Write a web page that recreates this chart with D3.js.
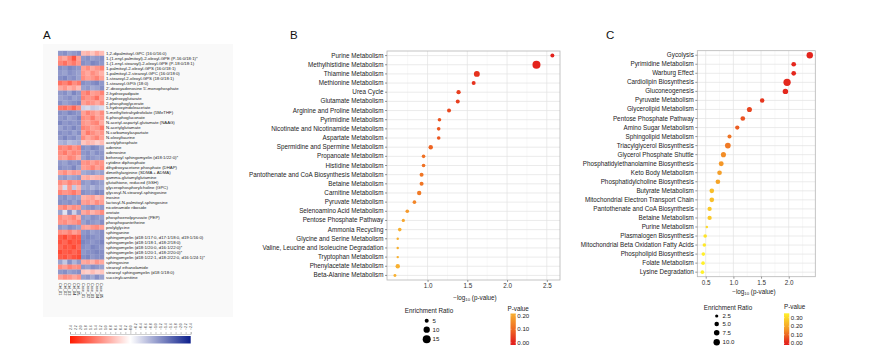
<!DOCTYPE html>
<html><head><meta charset="utf-8">
<script src="https://cdn.jsdelivr.net/npm/d3@7"></script>
<style>body{margin:0;background:#fff}svg{display:block}text{font-family:"Liberation Sans",Arial,sans-serif}</style>
</head><body><svg id="c" width="885" height="358"></svg>
<script>
// ---------- DATA ----------
const heatRows = ["1,2-dipalmitoyl-GPC (16:0/16:0)","1-(1-enyl-palmitoyl)-2-oleoyl-GPE (P-16:0/18:1)*","1-(1-enyl-stearoyl)-2-oleoyl-GPE (P-18:0/18:1)","1-palmitoyl-2-oleoyl-GPS (16:0/18:1)","1-palmitoyl-2-stearoyl-GPC (16:0/18:0)","1-stearoyl-2-oleoyl-GPS (18:0/18:1)","1-stearoyl-GPG (18:0)","2'-deoxyadenosine 5'-monophosphate","2-hydroxyadipate","2-hydroxyglutarate","2-phosphoglycerate","5-hydroxyindoleacetate","5-methyltetrahydrofolate (5MeTHF)","6-phosphogluconate","N-acetyl-aspartyl-glutamate (NAAG)","N-acetylglutamate","N-carbamoylaspartate","N-oleoyltaurine","acetylphosphate","adenine","adenosine","behenoyl sphingomyelin (d18:1/22:0)*","cytidine diphosphate","dihydroxyacetone phosphate (DHAP)","dimethylarginine (SDMA + ADMA)","gamma-glutamylglutamine","glutathione, reduced (GSH)","glycerophosphorylcholine (GPC)","glycosyl-N-stearoyl-sphingosine","inosine","lactosyl-N-palmitoyl-sphingosine","nicotinamide riboside","orotate","phosphoenolpyruvate (PEP)","phosphopantetheine","prolylglycine","sphinganine","sphingomyelin (d18:1/17:0, d17:1/18:0, d19:1/16:0)","sphingomyelin (d18:1/18:1, d18:2/18:0)","sphingomyelin (d18:1/20:0, d16:1/22:0)*","sphingomyelin (d18:1/20:1, d18:2/20:0)*","sphingomyelin (d18:1/22:1, d18:2/22:0, d16:1/24:1)*","sphingosine","stearoyl ethanolamide","stearoyl sphingomyelin (d18:1/18:0)","succinylcarnitine"];
const heatCols = ["Ctrl_01","Ctrl_02","Ctrl_03","Ctrl_04","Ctrl_05","Case_01","Case_02","Case_03","Case_04","Case_05"];
const heatValues = [
[-1.1,-1.2,-1.0,-1.1,-1.2, 0.7,0.8,0.6,0.9,0.7],
[1.1,0.9,1.3,1.8,1.0, -1.1,-1.2,-1.0,-1.1,-1.2],
[1.3,1.5,1.2,1.4,1.1, -1.2,-1.1,-1.3,-1.2,-1.1],
[-1.2,-1.1,-1.3,-1.2,-1.1, 1.0,1.2,0.9,1.1,1.3],
[-1.1,-1.0,-1.2,-1.1,-1.0, 1.1,0.9,1.2,1.0,0.8],
[-1.2,-1.3,-1.1,-1.2,-1.0, 1.2,1.0,1.1,1.3,1.0],
[1.5,1.3,1.6,1.2,1.4, -1.2,-1.1,-1.2,-1.3,-1.1],
[0.9,1.1,0.8,1.0,0.7, -1.0,-1.1,-0.9,-1.0,-1.2],
[-1.1,-1.2,-1.0,-1.3,-1.1, 1.2,1.4,1.0,1.1,1.3],
[-1.0,-1.1,-1.2,-1.0,-1.1, 1.3,1.1,1.2,1.5,1.0],
[-1.2,-1.0,-1.1,-1.2,-1.3, 1.0,1.2,1.1,0.9,1.2],
[1.4,1.5,1.3,1.6,1.2, -0.5,-0.4,-0.6,-0.5,-0.4],
[-1.2,-1.1,-1.3,-1.2,-1.1, 1.0,1.3,1.1,0.9,1.2],
[-1.1,-1.2,-1.0,-1.1,-1.3, 1.2,1.1,1.4,1.0,1.1],
[-1.3,-1.1,-1.2,-1.1,-1.2, 1.1,1.0,1.2,1.3,0.9],
[-1.0,-1.2,-1.1,-1.3,-1.1, 1.3,1.2,1.0,1.1,1.4],
[-1.2,-1.1,-1.2,-1.0,-1.2, 1.0,1.4,1.2,1.0,1.1],
[-1.1,-1.3,-1.1,-1.2,-1.0, 1.2,0.9,1.1,1.3,1.0],
[-0.8,-0.9,-0.7,-0.8,-0.9, 0.6,0.8,0.7,0.5,0.7],
[1.3,1.2,1.4,1.1,1.3, -1.2,-1.1,-1.3,-1.2,-1.0],
[1.2,1.4,1.1,1.3,1.2, -1.1,-1.2,-1.0,-1.2,-1.1],
[1.1,1.0,1.3,1.2,0.9, -1.0,-1.2,-1.1,-1.0,-1.1],
[-1.1,-1.0,-1.2,-1.1,-1.2, 1.1,1.2,1.0,1.2,1.1],
[-1.2,-1.1,-1.1,-1.3,-1.0, 1.0,1.1,1.3,1.0,1.2],
[1.0,1.2,0.9,1.1,1.0, -0.9,-1.0,-1.1,-0.9,-1.0],
[-1.0,-1.1,-0.9,-1.0,-1.1, 0.8,0.9,0.7,0.8,0.9],
[1.2,1.0,1.3,1.1,1.2, -1.1,-1.0,-1.2,-1.1,-1.0],
[0.9,-0.4,1.1,-0.6,0.8, -0.9,-1.0,-0.8,-1.0,-0.9],
[1.3,1.1,1.2,1.4,1.1, -1.2,-1.1,-1.1,-1.3,-1.2],
[-1.1,-1.2,-1.0,-1.1,-1.0, 0.8,0.9,1.0,0.7,0.9],
[-1.2,-1.1,-1.2,-1.0,-1.2, 1.0,1.1,0.9,1.2,1.0],
[1.1,1.3,1.0,1.2,1.1, -1.0,-1.1,-1.2,-1.0,-1.1],
[-1.0,-0.3,-1.2,-0.5,-1.1, 0.9,1.1,0.8,1.0,1.2],
[1.2,1.0,1.1,1.3,0.9, -1.1,-1.0,-1.2,-1.1,-1.0],
[1.1,1.2,1.0,1.1,1.3, -1.0,-1.2,-1.1,-1.0,-1.2],
[-1.1,-1.0,-1.2,-1.1,-1.0, 1.0,0.9,1.1,1.2,1.0],
[1.2,1.1,1.3,1.0,1.2, -1.1,-1.2,-1.0,-1.1,-1.2],
[1.7,1.9,1.6,1.8,1.7, -1.2,-1.3,-1.2,-1.1,-1.2],
[1.8,1.6,1.9,1.7,1.8, -1.3,-1.2,-1.1,-1.2,-1.3],
[1.6,1.8,1.7,1.9,1.6, -1.2,-1.1,-1.3,-1.2,-1.1],
[1.9,1.7,1.8,1.6,1.8, -1.1,-1.2,-1.2,-1.3,-1.2],
[1.7,1.8,1.6,1.8,1.9, -1.2,-1.3,-1.1,-1.2,-1.2],
[-1.0,-0.6,-1.2,-0.8,-1.1, 0.9,1.0,0.8,1.1,0.9],
[1.2,1.0,1.3,1.1,1.2, -1.1,-1.0,-1.2,-1.1,-1.0],
[-1.1,-1.2,-1.0,-1.1,-1.2, 0.6,0.5,0.7,0.5,0.6],
[1.0,1.2,1.1,0.9,1.1, -1.0,-1.1,-0.9,-1.2,-1.0]];
const heatTicks = [2.4,2.2,2.0,1.8,1.6,1.4,1.2,1.0,0.8,0.6,0.4,0.2,0.0,-0.2,-0.4,-0.6,-0.8,-1.0,-1.2,-1.4,-1.6,-1.8,-2.0,-2.2,-2.4];

const bCats = ["Purine Metabolism","Methylhistidine Metabolism","Thiamine Metabolism","Methionine Metabolism","Urea Cycle","Glutamate Metabolism","Arginine and Proline Metabolism","Pyrimidine Metabolism","Nicotinate and Nicotinamide Metabolism","Aspartate Metabolism","Spermidine and Spermine Metabolism","Propanoate Metabolism","Histidine Metabolism","Pantothenate and CoA Biosynthesis Metabolism","Betaine Metabolism","Carnitine Metabolism","Pyruvate Metabolism","Selenoamino Acid Metabolism","Pentose Phosphate Pathway","Ammonia Recycling","Glycine and Serine Metabolism","Valine, Leucine and Isoleucine Degradation","Tryptophan Metabolism","Phenylacetate Metabolism","Beta-Alanine Metabolism"];
const bLogP = [2.57,2.37,1.62,1.58,1.39,1.38,1.27,1.15,1.14,1.14,1.04,0.95,0.95,0.925,0.925,0.895,0.835,0.745,0.695,0.65,0.625,0.625,0.625,0.625,0.59];
const bRatio = [5.0,15.0,9.0,5.0,5.5,5.0,5.0,4.4,4.4,4.4,5.7,4.4,4.4,5.0,5.0,5.7,4.4,4.4,3.8,4.4,2.9,2.9,2.9,5.7,3.5];
const bSizeTicks = [5,10,15];
const bPTicks = [0.20,0.10,0.00];

const cCats = ["Gycolysis","Pyrimidine Metabolism","Warburg Effect","Cardiolipin Biosynthesis","Gluconeogenesis","Pyruvate Metabolism","Glycerolipid Metabolism","Pentose Phosphate Pathway","Amino Sugar Metabolism","Sphingolipid Metabolism","Triacylglycerol Biosynthesis","Glycerol Phosphate Shuttle","Phosphatidylethanolamine Biosynthesis","Keto Body Metabolism","Phosphatidylcholine Biosynthesis","Butyrate Metabolism","Mitochondrial Electron Transport Chain","Pantothenate and CoA Biosynthesis","Betaine Metabolism","Purine Metabolism","Plasmalogen Biosynthesis","Mitochondrial Beta Oxidation Fatty Acids","Phospholipid Biosynthesis","Folate Metabolism","Lysine Degradation"];
const cLogP = [2.38,2.09,2.09,1.97,1.94,1.52,1.29,1.17,1.07,0.93,0.90,0.82,0.78,0.75,0.72,0.61,0.61,0.57,0.57,0.52,0.49,0.475,0.457,0.452,0.44];
const cRatio = [10.0,5.3,5.3,13.0,7.3,5.0,6.3,5.3,4.5,4.0,8.0,6.3,6.0,5.3,5.3,5.3,5.3,4.5,4.5,1.5,3.2,3.0,3.2,3.2,3.2];
const cSizeTicks = [2.5,5.0,7.5,10.0];
const cPTicks = [0.30,0.20,0.10,0.00];

// ---------- DRAW ----------
const svg = d3.select("#c");
svg.append("rect").attr("width",885).attr("height",358).attr("fill","#fff");

[["A",43,39],["B",290,39],["C",606,39]].forEach(([t,x,y])=>{
  svg.append("text").attr("x",x).attr("y",y).attr("font-size",11.5).attr("fill","#111").text(t);
});

// ---- Panel A: heatmap ----
svg.append("rect").attr("x",43).attr("y",44).attr("width",190).attr("height",273).attr("fill","#f9f9f9");
const hx = d3.scaleBand().domain(heatCols).range([58,104]);
const hy = d3.scaleBand().domain(heatRows).range([50.8,279.5]);
const hColor = d3.scaleLinear().domain([2.4,0,-2.4]).range(["#ff1a00","#ffffff","#0d1f8c"]).clamp(true);
const gA = svg.append("g");
heatValues.forEach((row,i)=>{
  row.forEach((v,j)=>{
    gA.append("rect").attr("x",hx(heatCols[j])).attr("y",hy(heatRows[i]))
      .attr("width",hx.bandwidth()+0.2).attr("height",hy.bandwidth()+0.2).attr("fill",hColor(v));
  });
});
gA.selectAll("text.rl").data(heatRows).join("text").attr("class","rl")
  .attr("x",106).attr("y",d=>hy(d)+hy.bandwidth()/2+1.5)
  .attr("font-family","DejaVu Sans").attr("font-size",4.3).attr("fill","#222").text(d=>d);
gA.selectAll("text.cl").data(heatCols).join("text").attr("class","cl")
  .attr("transform",d=>`translate(${hx(d)+hx.bandwidth()/2-1.3},283) rotate(90)`)
  .attr("font-family","DejaVu Sans").attr("font-size",3.8).attr("fill","#222").text(d=>d);
const defs = svg.append("defs");
const lgA = defs.append("linearGradient").attr("id","gA");
d3.range(0,1.0001,0.1).forEach(t=>lgA.append("stop").attr("offset",t).attr("stop-color",hColor(2.4-4.8*t)));
const cbx = d3.scaleLinear().domain([2.4,-2.4]).range([70,190.7]);
svg.append("rect").attr("x",70).attr("y",336).attr("width",120.7).attr("height",7.5).attr("fill","url(#gA)");
const gCB = svg.append("g").attr("transform","translate(0,334)");
gCB.call(d3.axisTop(cbx).tickValues(heatTicks).tickSize(2).tickFormat(d3.format(".1f")))
  .call(g=>g.select(".domain").attr("stroke","#888").attr("stroke-width",0.4))
  .call(g=>g.selectAll(".tick line").attr("stroke","#777").attr("stroke-width",0.4).attr("y2",d=>d===0?-4:-2))
  .call(g=>g.selectAll(".tick text").attr("font-family","DejaVu Sans").attr("font-size",3.4).attr("fill","#444")
     .attr("transform","rotate(-90)").attr("text-anchor","start").attr("x",4).attr("y",0).attr("dy","0.32em"));

// ---- dot plot helper ----
function dotPlot(o){
  const g = svg.append("g");
  const x = d3.scaleLinear().domain(o.xdom).range([o.x0,o.x1]);
  const y = d3.scaleBand().domain(o.cats).range([o.y0,o.y1]);
  g.append("rect").attr("x",o.x0).attr("y",o.y0).attr("width",o.x1-o.x0).attr("height",o.y1-o.y0).attr("fill","#fff");
  o.minor.forEach(v=>g.append("line").attr("x1",x(v)).attr("x2",x(v)).attr("y1",o.y0).attr("y2",o.y1).attr("stroke","#f1f1f1").attr("stroke-width",0.5));
  o.major.forEach(v=>g.append("line").attr("x1",x(v)).attr("x2",x(v)).attr("y1",o.y0).attr("y2",o.y1).attr("stroke","#e3e3e3").attr("stroke-width",0.7));
  o.cats.forEach(c=>g.append("line").attr("x1",o.x0).attr("x2",o.x1).attr("y1",y(c)+y.bandwidth()/2).attr("y2",y(c)+y.bandwidth()/2).attr("stroke","#e3e3e3").attr("stroke-width",0.7));
  g.append("rect").attr("x",o.x0).attr("y",o.y0).attr("width",o.x1-o.x0).attr("height",o.y1-o.y0).attr("fill","none").attr("stroke","#b5b5b5").attr("stroke-width",0.8);
  const ya = g.append("g").attr("transform",`translate(${o.x0},0)`).call(d3.axisLeft(y).tickSize(2).tickPadding(1.5));
  ya.select(".domain").remove();
  ya.selectAll(".tick line").attr("stroke","#333").attr("stroke-width",0.5);
  ya.selectAll(".tick text").attr("font-family","Liberation Sans").attr("font-size",6.3).attr("fill","#222");
  const xa = g.append("g").attr("transform",`translate(0,${o.y1})`).call(d3.axisBottom(x).tickValues(o.major).tickSize(2).tickPadding(2).tickFormat(d3.format(".1f")));
  xa.select(".domain").remove();
  xa.selectAll(".tick line").attr("stroke","#333").attr("stroke-width",0.5);
  xa.selectAll(".tick text").attr("font-family","Liberation Sans").attr("font-size",6.3).attr("fill","#333");
  const t = g.append("text").attr("x",o.titleX).attr("y",o.titleY).attr("text-anchor","middle").attr("font-size",6.3).attr("fill","#222");
  t.append("tspan").text("\u2212log");
  t.append("tspan").attr("font-size",4.3).attr("dy",1.4).text("10");
  t.append("tspan").attr("dy",-1.4).text(" (p-value)");
  const pts = o.cats.map((c,i)=>({c,v:o.vals[i],r:o.ratio[i]}));
  g.selectAll("circle.pt").data(pts).join("circle").attr("class","pt")
    .attr("cx",d=>x(d.v)).attr("cy",d=>y(d.c)+y.bandwidth()/2)
    .attr("r",d=>o.rad(d.r)).attr("fill",d=>o.color(Math.pow(10,-d.v)));
  g.append("text").attr("x",o.lg.tx).attr("y",o.lg.ty).attr("text-anchor","middle").attr("font-size",6.3).attr("fill","#222").text("Enrichment Ratio");
  o.sizeTicks.forEach((s,i)=>{
    g.append("circle").attr("cx",o.lg.dx).attr("cy",o.lg.dy[i]).attr("r",o.rad(s)).attr("fill","#000");
    g.append("text").attr("x",o.lg.lx).attr("y",o.lg.dy[i]+2.1).attr("font-size",6.1).attr("fill","#222").text(o.sizeFmt(s));
  });
  g.append("text").attr("x",o.cb.tx).attr("y",o.cb.ty).attr("font-size",6.3).attr("fill","#222").text("P-value");
  const gid = "g"+o.id;
  const lg = defs.append("linearGradient").attr("id",gid).attr("x1",0).attr("y1",1).attr("x2",0).attr("y2",0);
  d3.range(0,1.0001,0.1).forEach(t=>lg.append("stop").attr("offset",t).attr("stop-color",o.color(o.cb.pmin+(o.cb.pmax-o.cb.pmin)*t)));
  const py = d3.scaleLinear().domain([o.cb.pmin,o.cb.pmax]).range([o.cb.y1,o.cb.y0]);
  g.append("rect").attr("x",o.cb.x).attr("y",o.cb.y0).attr("width",o.cb.w).attr("height",o.cb.y1-o.cb.y0).attr("fill",`url(#${gid})`);
  o.pTicks.forEach(p=>{
    g.append("line").attr("x1",o.cb.x).attr("x2",o.cb.x+1).attr("y1",py(p)).attr("y2",py(p)).attr("stroke","#fff").attr("stroke-width",0.4);
    g.append("line").attr("x1",o.cb.x+o.cb.w-1).attr("x2",o.cb.x+o.cb.w).attr("y1",py(p)).attr("y2",py(p)).attr("stroke","#fff").attr("stroke-width",0.4);
    g.append("text").attr("x",o.cb.x+o.cb.w+1.5).attr("y",py(p)+2.1).attr("font-size",6.1).attr("fill","#222").text(d3.format(".2f")(p));
  });
}

const bAreaScale = d3.scaleLinear().domain([5,15]).range([4,16]);
dotPlot({id:"B", cats:bCats, vals:bLogP, ratio:bRatio,
  xdom:[0.49,2.666], x0:387, x1:560, y0:51, y1:280,
  major:[1.0,1.5,2.0,2.5], minor:[0.75,1.25,1.75,2.25],
  titleX:475, titleY:299.5,
  rad:r=>Math.sqrt(Math.max(1.2,bAreaScale(r))),
  color:d3.scaleLinear().domain([0,0.1,0.217]).range(["#e3201c","#ef6a22","#f8b030"]).clamp(true),
  sizeTicks:bSizeTicks, sizeFmt:d3.format("d"),
  lg:{tx:429,ty:313,dx:426.7,dy:[320.7,329.7,339.3],lx:432.5},
  pTicks:bPTicks,
  cb:{x:510.5,w:5.3,y0:313.5,y1:345,pmin:-0.017,pmax:0.217,tx:507.5,ty:310.8}
});
const cR = d3.scaleSqrt().domain([0,10]).range([0,3.2]);
dotPlot({id:"C", cats:cCats, vals:cLogP, ratio:cRatio,
  xdom:[0.348,2.48], x0:697.3, x1:815.3, y0:50.7, y1:276.7,
  major:[0.5,1.0,1.5,2.0], minor:[0.75,1.25,1.75,2.25],
  titleX:754, titleY:294,
  rad:r=>cR(r),
  color:d3.scaleLinear().domain([0,0.17,0.355]).range(["#e3201c","#f49a28","#fff22a"]).clamp(true),
  sizeTicks:cSizeTicks, sizeFmt:d3.format(".1f"),
  lg:{tx:728,ty:309.7,dx:716.7,dy:[316,324,332.7,342.3],lx:722.5},
  pTicks:cPTicks,
  cb:{x:784,w:5.3,y0:313.3,y1:345,pmin:-0.02,pmax:0.352,tx:784,ty:309}
});
</script></body></html>
